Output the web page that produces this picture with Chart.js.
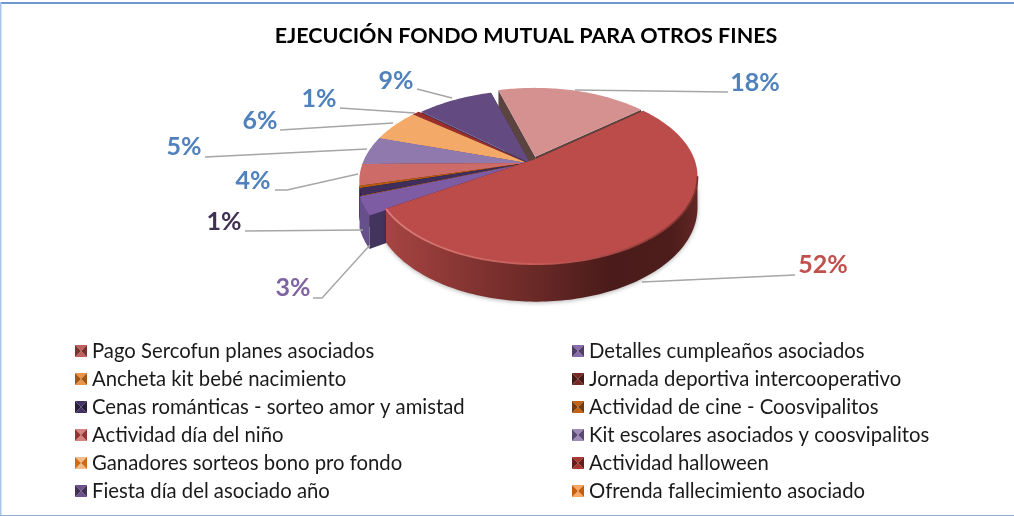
<!DOCTYPE html>
<html><head><meta charset="utf-8">
<style>html,body{margin:0;padding:0;background:#fff}#w{position:relative;width:1014px;height:516px}</style>
<script src="https://cdn.jsdelivr.net/npm/chart.js@4"></script>
</head><body><div id="w"><canvas id="c" width="1014" height="516"></canvas></div>
<script>
const categories = ["Pago Sercofun planes asociados","Detalles cumpleaños asociados","Ancheta kit bebé nacimiento","Jornada deportiva intercooperativo","Cenas románticas - sorteo amor y amistad","Actividad de cine - Coosvipalitos","Actividad día del niño","Kit escolares asociados y coosvipalitos","Ganadores sorteos bono pro fondo","Actividad halloween","Fiesta día del asociado año","Ofrenda fallecimiento asociado","Otros"];
const values = [52.2,3.2,0.05,0.05,1.2,0.45,3.8,5.0,5.9,0.8,8.9,0.05,18.4];
const topColors = ["#bb4c4a","#7d5ca3","#e8842f","#6b2422","#3f2d5c","#b25a10","#cd6b69","#9079ad","#f3a968","#9a2f2c","#634a80","#f79646","#d59190"];
const wallDark = ["#4a1b1a","#5f4680","#a0561a","#3a1412","#2c1f42","#7a3c08","#9a4b49","#6d5888","#c07f45","#6a1f1d","#4a375f","#b06a2a","#a86e6d"];
const legendCount = 12;
const labelColors = {0:"#c0504d",1:"#8064a2",4:"#403152",6:"#4f81bd",7:"#4f81bd",8:"#4f81bd",9:"#4f81bd",10:"#4f81bd",12:"#4f81bd"};
const labelPlace = {0:[823,265,642,282,795,275],1:[293,288,370,245,322,298,313,298],4:[224,222,363,230,245,231],6:[253,181,358,174,287,190,275,190],7:[184,147,367,149,205,157],8:[260,121,393,123,280,130],9:[319,99,415,113,340,108],10:[396,81,452,98,417,89],12:[755,83,575,90,728,92]};

// view of the pie: a tilted disc seen in perspective
const VIEW = {k:0.2, R:158, Ry:84, depth:36};
const MAIN = {x:535,y:158,s:1}, PINK = {x:534.5,y:158,s:0.99}, FIESTA = {x:530,y:163,s:1.04}, SIDE = {x:527,y:163,s:1.04};
const groupOf = i => i===0 ? MAIN : i===12 ? PINK : i===10 ? FIESTA : SIDE;
const explode = {0:0.01,1:0.01,12:0.015};

function project(g,e,theta,r){
  const u=r*Math.cos(theta)+e.ex, v=r*Math.sin(theta)+e.ey;
  const w=1/(1-VIEW.k*v);
  return {x:g.x+g.s*VIEW.R*u*w, y:g.y+g.s*VIEW.Ry*v*w, w, v};
}
const {ArcElement,PieController}=Chart;
class Arc3D extends ArcElement{
  static id='arc3d';
  static defaults=ArcElement.defaults;
  geom(){
    const p=this.getProps(['startAngle','endAngle']);
    const i=this.$idx, g=groupOf(i), mid=(p.startAngle+p.endAngle)/2, e0=explode[i]||0;
    return {a:p.startAngle,b:p.endAngle,mid,g,i,e:{ex:e0*Math.cos(mid),ey:e0*Math.sin(mid)}};
  }
  rim(G){const o=[];const n=Math.max(2,Math.ceil((G.b-G.a)/0.02));
    for(let j=0;j<=n;j++){o.push(project(G.g,G.e,G.a+(G.b-G.a)*j/n,1));}return o;}
  draw(ctx){
    const G=this.geom(), i=G.i, rim=this.rim(G), apex=project(G.g,G.e,0,0);
    const d=VIEW.depth;
    const down=q=>({x:q.x,y:q.y+d*q.w/1.2});
    const poly=(pts,fill)=>{ctx.beginPath();pts.forEach((q,n)=>n?ctx.lineTo(q.x,q.y):ctx.moveTo(q.x,q.y));ctx.closePath();ctx.fillStyle=fill;ctx.fill();};
    const faceCol=i===12?"#5b4340":(i===1?"#43345e":wallDark[i]);
    poly([apex,rim[0],down(rim[0]),down(apex)],faceCol);
    poly([apex,rim[rim.length-1],down(rim[rim.length-1]),down(apex)],faceCol);
    // outer wall: only the part of the rim that faces the viewer
    const front=rim.filter(q=>q.v>VIEW.k);
    if(front.length>1){
      let wallFill;
      if(i===0){
        wallFill=ctx.createLinearGradient(384,0,697,0);
        wallFill.addColorStop(0,"#a84543");wallFill.addColorStop(.22,"#8b3735");wallFill.addColorStop(.5,"#672826");
        wallFill.addColorStop(.72,"#4a1b1a");wallFill.addColorStop(.92,"#4d1d1c");wallFill.addColorStop(1,"#622624");
      }else if(i===1){wallFill="#66508c";}
      else{wallFill=wallDark[i];}
      const wall=[...front,...front.slice().reverse().map(down)];
      ctx.save();
      if(i===0){ctx.shadowColor="rgba(0,0,0,.3)";ctx.shadowBlur=4;ctx.shadowOffsetY=1;}
      poly(wall,wallFill);
      ctx.restore();
    }
    poly([apex,...rim],topColors[i]);
    if(i===0){
      ctx.beginPath();
      front.forEach((q,n)=>{n?ctx.lineTo(q.x,q.y):ctx.moveTo(q.x,q.y);});
      const g2=ctx.createLinearGradient(380,0,700,0);
      g2.addColorStop(0,"#d9807b");g2.addColorStop(.5,"#c65a57");g2.addColorStop(1,"#7c302e");
      ctx.strokeStyle=g2;ctx.lineWidth=1.8;ctx.stroke();
    }
  }
}
class Pie3D extends PieController{
  static id='pie3d';
  static defaults={...PieController.defaults,dataElementType:'arc3d'};
  draw(){
    const ctx=this.chart.ctx, arcs=this.getMeta().data;
    arcs.forEach((a,i)=>{a.$idx=i;});
    const key=a=>{const p=a.getProps(['startAngle','endAngle']);return Math.sin((p.startAngle+p.endAngle)/2);};
    [...arcs].sort((a,b)=>key(a)-key(b)).forEach(a=>a.draw(ctx));
  }
}
Chart.register(Arc3D,Pie3D);

const frame={id:'frame',beforeDraw(c){const x=c.ctx;x.save();x.fillStyle="#fff";x.fillRect(0,0,1014,516);x.restore();}};
const extras={id:'extras',afterDraw(c){
  const x=c.ctx;x.save();
  x.fillStyle="#6c97cf";x.fillRect(0,2,1014,2);
  x.fillStyle="#a7c4ea";x.fillRect(0,2,1.5,514);
  x.fillStyle="#8faadc";x.fillRect(0,515,1014,1);
  x.fillStyle="#000";x.font="bold 21.5px Lato";x.textAlign="center";x.textBaseline="middle";
  x.fillText("EJECUCIÓN FONDO MUTUAL PARA OTROS FINES",526,36);
  const total=values.reduce((s,v)=>s+v,0);
  Object.keys(labelPlace).forEach(k=>{
    const p=labelPlace[k];
    x.beginPath();x.moveTo(p[2],p[3]);for(let n=4;n<p.length;n+=2)x.lineTo(p[n],p[n+1]);
    x.strokeStyle="#a6a6a6";x.lineWidth=1.4;x.stroke();
    x.fillStyle=labelColors[k];x.font="bold 25px Lato";
    x.fillText(Math.round(values[k]/total*100)+"%",p[0],p[1]);
  });
  x.textAlign="left";x.font="20.3px Lato";
  categories.slice(0,legendCount).forEach((t,i)=>{
    const col=i%2, row=(i-col)/2;
    const mx=col?572:75, my=345+row*28, s=12, tx=col?589:92;
    const c0=Chart.helpers.color(topColors[i]).lighten(0.1).rgbString();
    const cd=Chart.helpers.color(topColors[i]).darken(0.35).rgbString();
    const cx=mx+s/2, cy=my+s/2;
    const tri=(a,b,d,e,f)=>{x.beginPath();x.moveTo(a,b);x.lineTo(d,e);x.lineTo(cx,cy);x.closePath();x.fillStyle=f;x.fill();};
    tri(mx,my,mx+s,my,c0);tri(mx,my+s,mx+s,my+s,c0);
    tri(mx,my,mx,my+s,cd);tri(mx+s,my,mx+s,my+s,cd);
    x.fillStyle="#1a1a1a";x.fillText(t,tx,351+row*28);
  });
  x.restore();
}};
new Chart(document.getElementById('c'),{
  type:'pie3d',
  data:{labels:categories,datasets:[{data:values,backgroundColor:topColors,borderWidth:0}]},
  options:{responsive:false,animation:false,rotation:50,
    plugins:{legend:{display:false},tooltip:{enabled:false}},events:[]},
  plugins:[frame,extras]
});
</script></body></html>
